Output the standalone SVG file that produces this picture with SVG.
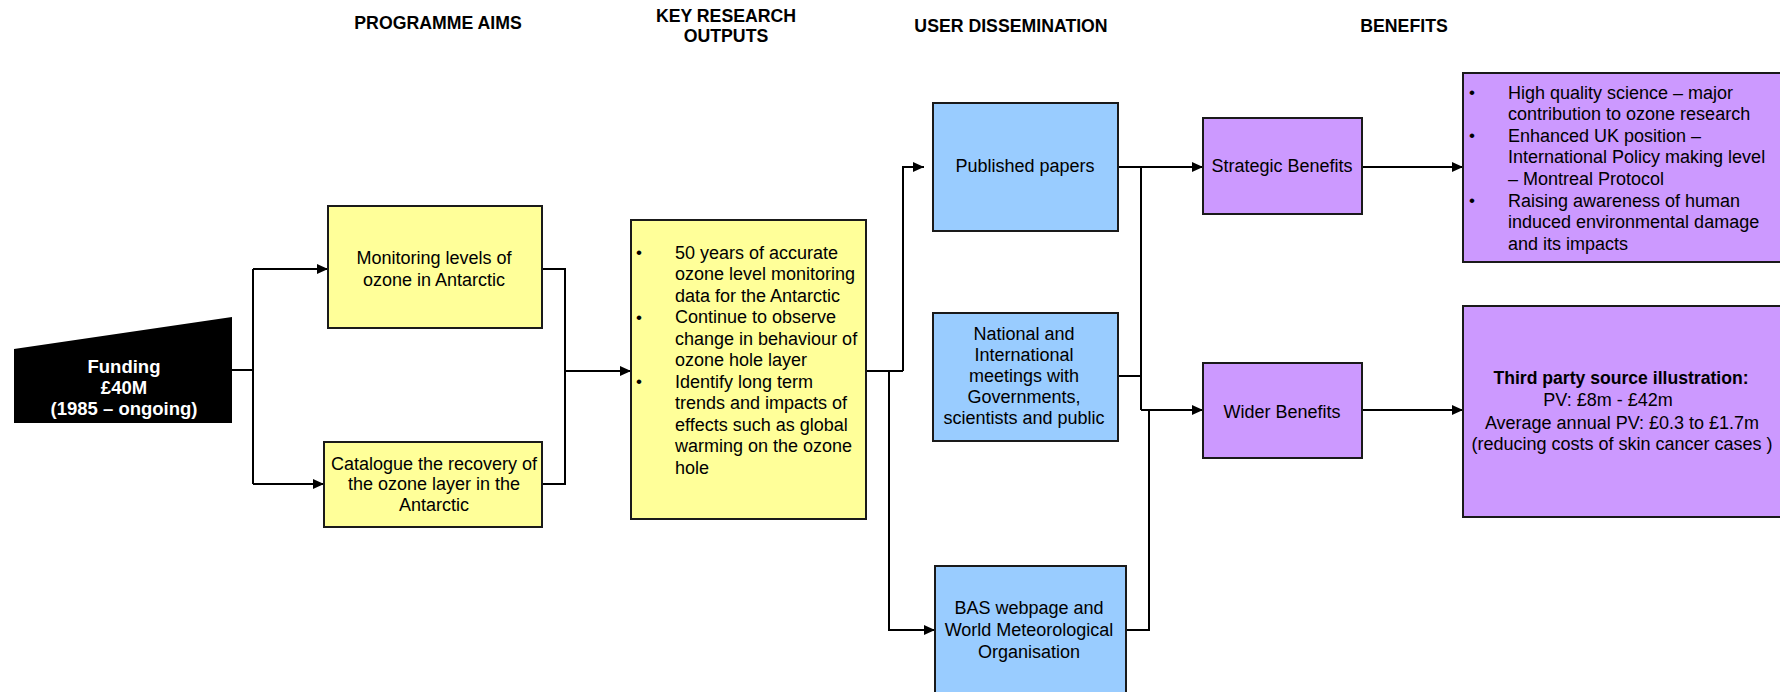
<svg xmlns="http://www.w3.org/2000/svg" width="1780" height="692" viewBox="0 0 1780 692">
<style>
text{font-family:"Liberation Sans",Arial,sans-serif;font-size:18px;fill:#000}
.h{font-weight:bold;font-size:17.7px;text-anchor:middle}
.c{text-anchor:middle}
.b{font-size:17px}
.box{stroke:#1a1a1a;stroke-width:2}
.y{fill:#ffff99}
.bl{fill:#99ccff}
.p{fill:#cc99ff}
.con path{fill:none;stroke:#000;stroke-width:2}
.arr{marker-end:url(#ah)}
</style>
<defs>
<marker id="ah" markerUnits="userSpaceOnUse" markerWidth="12" markerHeight="10" refX="11" refY="5" orient="auto">
<path d="M0,0 L11,5 L0,10 z" fill="#000"/>
</marker>
</defs>
<rect width="1780" height="692" fill="#fff"/>
<g id="headers">
<text class="h" x="438" y="29">PROGRAMME AIMS</text>
<text class="h" x="726" y="21.5">KEY RESEARCH</text>
<text class="h" x="726" y="41.5">OUTPUTS</text>
<text class="h" x="1011" y="32">USER DISSEMINATION</text>
<text class="h" x="1404" y="32">BENEFITS</text>
</g>
<g class="con" id="connectors">
<path d="M232,370 H253"/>
<path d="M253,269 V484"/>
<path class="arr" d="M253,269 H328"/>
<path class="arr" d="M253,484 H324"/>
<path d="M542,269 H565 V484 H542"/>
<path class="arr" d="M565,371 H631"/>
<path d="M866,371 H903"/>
<path class="arr" d="M903,371 V167 H924"/>
<path class="arr" d="M889,371 V630 H935"/>
<path class="arr" d="M1118,167 H1203"/>
<path d="M1141,167 V410"/>
<path d="M1118,376 H1141"/>
<path class="arr" d="M1141,410 H1203"/>
<path d="M1126,630 H1149 V410"/>
<path class="arr" d="M1362,167 H1463"/>
<path class="arr" d="M1362,410 H1463"/>
</g>
<g id="funding">
<polygon points="14,349 232,317 232,423 14,423" fill="#000"/>
<text class="c" x="124" y="372.5" style="fill:#fff;font-weight:bold;font-size:18.5px">Funding</text>
<text class="c" x="124" y="393.5" style="fill:#fff;font-weight:bold;font-size:18.5px">£40M</text>
<text class="c" x="124" y="414.5" style="fill:#fff;font-weight:bold;font-size:18.5px">(1985 – ongoing)</text>
</g>
<g id="monitoring">
<rect class="box y" x="328" y="206" width="214" height="122"/>
<text class="c" x="434" y="263.5">Monitoring levels of</text>
<text class="c" x="434" y="285.5">ozone in Antarctic</text>
</g>
<g id="catalogue">
<rect class="box y" x="324" y="442" width="218" height="85"/>
<text class="c" x="434" y="469.5">Catalogue the recovery of</text>
<text class="c" x="434" y="490">the ozone layer in the</text>
<text class="c" x="434" y="510.5">Antarctic</text>
</g>
<g id="key-outputs">
<rect class="box y" x="631" y="220" width="235" height="299"/>
<text class="b" x="636" y="258">•</text>
<text class="b" x="636" y="322.5">•</text>
<text class="b" x="636" y="387">•</text>
<text x="675" y="258.5">50 years of accurate</text>
<text x="675" y="280">ozone level monitoring</text>
<text x="675" y="301.5">data for the Antarctic</text>
<text x="675" y="323">Continue to observe</text>
<text x="675" y="344.5">change in behaviour of</text>
<text x="675" y="366">ozone hole layer</text>
<text x="675" y="387.5">Identify long term</text>
<text x="675" y="409">trends and impacts of</text>
<text x="675" y="430.5">effects such as global</text>
<text x="675" y="452">warming on the ozone</text>
<text x="675" y="473.5">hole</text>
</g>
<g id="published">
<rect class="box bl" x="933" y="103" width="185" height="128"/>
<text class="c" x="1025" y="171.5">Published papers</text>
</g>
<g id="meetings">
<rect class="box bl" x="933" y="313" width="185" height="128"/>
<text class="c" x="1024" y="339.5">National and</text>
<text class="c" x="1024" y="360.7">International</text>
<text class="c" x="1024" y="381.9">meetings with</text>
<text class="c" x="1024" y="403.1">Governments,</text>
<text class="c" x="1024" y="424.3">scientists and public</text>
</g>
<g id="bas">
<rect class="box bl" x="935" y="566" width="191" height="140"/>
<text class="c" x="1029" y="613.5">BAS webpage and</text>
<text class="c" x="1029" y="635.5">World Meteorological</text>
<text class="c" x="1029" y="657.5">Organisation</text>
</g>
<g id="strategic">
<rect class="box p" x="1203" y="118" width="159" height="96"/>
<text class="c" x="1282" y="171.5">Strategic Benefits</text>
</g>
<g id="wider">
<rect class="box p" x="1203" y="363" width="159" height="95"/>
<text class="c" x="1282" y="417.5">Wider Benefits</text>
</g>
<g id="strategic-details">
<rect class="box p" x="1463" y="73" width="330" height="189"/>
<text class="b" x="1469" y="98">•</text>
<text class="b" x="1469" y="141">•</text>
<text class="b" x="1469" y="206">•</text>
<text x="1508" y="98.5">High quality science  – major</text>
<text x="1508" y="120.1">contribution to ozone research</text>
<text x="1508" y="141.7">Enhanced UK position  –</text>
<text x="1508" y="163.3">International Policy making level</text>
<text x="1508" y="184.9">– Montreal Protocol</text>
<text x="1508" y="206.5">Raising awareness of human</text>
<text x="1508" y="228.1">induced environmental damage</text>
<text x="1508" y="249.7">and its impacts</text>
</g>
<g id="wider-details">
<rect class="box p" x="1463" y="306" width="330" height="211"/>
<text class="c" x="1621" y="383.5" style="font-weight:bold;font-size:17.6px">Third party source illustration:</text>
<text class="c" x="1608" y="406">PV: £8m - £42m</text>
<text class="c" x="1622" y="428.5">Average annual PV: £0.3 to £1.7m</text>
<text class="c" x="1622" y="449.5">(reducing costs of skin cancer cases )</text>
</g>
</svg>
